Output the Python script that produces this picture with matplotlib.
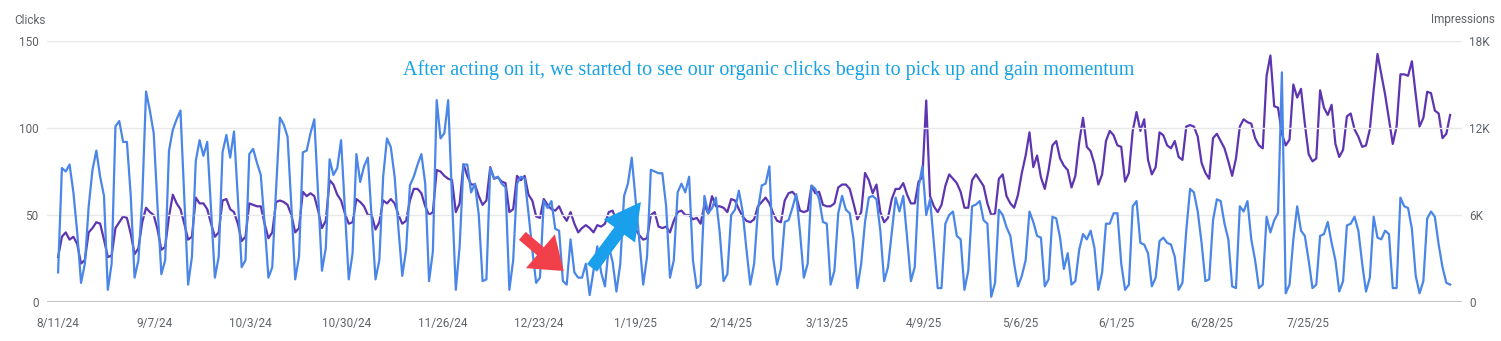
import numpy as np
import matplotlib
matplotlib.use("Agg")
import matplotlib.pyplot as plt
from matplotlib.ticker import FuncFormatter

# daily clicks, one row per week (Sun..Sat), starting 8/11/24
clicks = [
    17, 77, 75, 79, 63, 40, 11,
    22, 55, 76, 87, 72, 61, 7,
    22, 101, 104, 92, 92, 61, 14,
    24, 59, 121, 110, 97, 55, 16,
    24, 87, 99, 105, 110, 60, 10,
    26, 81, 93, 84, 92, 53, 14,
    26, 86, 96, 83, 98, 60, 20,
    24, 85, 88, 80, 73, 45, 14,
    20, 65, 106, 102, 95, 55, 13,
    26, 86, 87, 97, 105, 62, 18,
    31, 82, 73, 77, 93, 53, 13,
    28, 85, 69, 78, 83, 48, 13,
    24, 72, 94, 89, 72, 42, 15,
    30, 67, 72, 79, 85, 68, 12,
    29, 116, 94, 97, 116, 60, 7,
    32, 79, 79, 63, 68, 50, 12,
    13, 77, 71, 72, 68, 66, 7,
    24, 68, 72, 71, 51, 30, 11,
    14, 58, 54, 58, 42, 41, 12,
    10, 36, 17, 14, 14, 22, 4,
    18, 32, 17, 9, 32, 23, 6,
    22, 61, 68, 83, 59, 35, 10,
    26, 76, 75, 74, 74, 55, 14,
    24, 63, 68, 63, 72, 24, 8,
    10, 61, 51, 54, 60, 40, 12,
    16, 50, 53, 64, 52, 30, 10,
    22, 53, 67, 68, 78, 25, 10,
    19, 46, 47, 54, 62, 40, 14,
    22, 67, 65, 59, 46, 45, 10,
    18, 51, 61, 53, 51, 36, 8,
    22, 46, 60, 61, 59, 41, 12,
    20, 40, 60, 52, 61, 37, 12,
    20, 66, 78, 50, 59, 34, 8,
    8, 45, 50, 52, 38, 36, 7,
    18, 55, 56, 58, 47, 45, 3,
    11, 53, 50, 43, 38, 22, 9,
    15, 24, 52, 46, 38, 37, 9,
    13, 49, 48, 37, 19, 28, 10,
    12, 30, 39, 36, 41, 31, 7,
    17, 45, 45, 51, 51, 22, 7,
    10, 55, 58, 34, 33, 28, 9,
    14, 35, 37, 34, 33, 26, 7,
    11, 41, 65, 63, 52, 34, 12,
    13, 47, 59, 58, 45, 36, 9,
    8, 55, 52, 58, 36, 24, 8,
    10, 49, 40, 47, 51, 132, 5,
    10, 36, 55, 41, 38, 24, 8,
    10, 38, 39, 46, 34, 24, 6,
    12, 44, 45, 49, 41, 22, 6,
    14, 49, 37, 36, 41, 39, 8,
    8, 60, 55, 54, 42, 15, 5,
    12, 48, 52, 49, 33, 20, 11,
    10,
]

# daily impressions in thousands, same layout
impressions_k = [
    3.1, 4.5, 4.8, 4.3, 4.5, 4.0, 2.65,
    2.9, 4.8, 5.1, 5.5, 5.4, 4.3, 3.1,
    3.2, 5.1, 5.5, 5.9, 5.8, 4.7, 3.3,
    3.7, 5.5, 6.5, 6.2, 6.0, 5.0, 3.6,
    3.8, 5.9, 7.4, 6.8, 6.4, 5.4, 4.3,
    4.5, 7.2, 6.8, 6.8, 6.4, 5.4, 4.5,
    4.8, 7.0, 7.1, 6.4, 6.2, 5.4, 4.2,
    4.5, 6.8, 6.7, 6.6, 6.6, 5.4, 4.4,
    4.8, 6.9, 7.0, 6.9, 6.7, 6.0, 4.8,
    5.1, 7.6, 7.3, 7.5, 7.3, 6.3, 5.1,
    5.6, 8.4, 8.1, 7.4, 7.0, 6.1, 5.4,
    5.5, 7.1, 6.9, 6.6, 6.0, 6.0, 5.0,
    5.5, 7.0, 6.8, 7.1, 6.8, 6.0, 5.4,
    5.6, 7.0, 7.8, 7.8, 7.5, 6.6, 6.0,
    6.2, 9.1, 9.0, 8.7, 8.5, 8.4, 6.2,
    6.8, 9.5, 8.7, 8.1, 8.1, 7.3, 6.7,
    7.0, 9.3, 8.5, 8.6, 8.3, 8.2, 6.2,
    6.4, 8.7, 8.4, 8.7, 7.4, 7.0, 5.9,
    5.8, 7.1, 6.7, 6.4, 6.3, 6.6, 6.0,
    5.6, 6.2, 5.4, 4.8, 5.1, 5.3, 5.1,
    4.8, 5.3, 5.2, 5.4, 6.2, 6.3, 5.6,
    5.4, 5.6, 5.7, 5.5, 5.0, 4.6, 4.3,
    4.4, 6.0, 6.2, 5.2, 5.1, 5.2, 4.8,
    5.6, 6.2, 6.3, 6.0, 6.0, 5.7, 5.8,
    5.4, 6.7, 6.1, 7.3, 6.6, 6.6, 6.5,
    6.2, 7.1, 7.0, 6.4, 5.9, 5.6, 5.5,
    5.7, 6.6, 6.9, 7.2, 6.8, 6.1, 5.6,
    5.5, 7.0, 7.5, 7.6, 7.3, 6.3, 6.2,
    6.3, 8.0, 7.5, 7.6, 6.7, 6.6, 6.6,
    6.8, 7.9, 8.1, 8.1, 7.8, 6.8, 5.7,
    6.2, 8.9, 8.4, 7.5, 8.1, 6.2, 5.5,
    5.8, 7.1, 7.8, 7.8, 8.2, 7.4, 6.8,
    6.8, 8.3, 8.6, 13.9, 7.3, 6.6, 6.2,
    6.7, 8.0, 8.8, 8.5, 8.2, 7.6, 6.5,
    6.5, 8.4, 8.8, 8.4, 8.0, 6.8, 6.0,
    6.1, 8.5, 8.8, 7.3, 6.8, 6.5, 7.4,
    8.9, 10.1, 11.7, 9.3, 10.1, 8.6, 7.8,
    9.1, 10.8, 11.1, 9.9, 9.4, 9.1, 7.9,
    8.7, 11.0, 12.7, 10.7, 10.4, 9.5, 8.1,
    8.8, 11.1, 11.8, 11.5, 10.8, 10.7, 8.3,
    8.9, 11.8, 13.1, 11.8, 12.6, 9.8, 8.8,
    9.3, 11.7, 11.5, 10.8, 10.6, 11.1, 10.0,
    9.8, 12.1, 12.2, 12.1, 11.4, 9.6, 8.9,
    8.5, 11.3, 11.6, 11.1, 10.6, 9.7, 8.7,
    9.9, 12.1, 12.6, 12.4, 12.3, 11.3, 10.8,
    10.6, 15.6, 17.0, 13.5, 13.4, 11.6, 10.8,
    11.2, 15.0, 14.1, 14.7, 12.3, 10.2, 9.7,
    9.9, 14.6, 13.4, 12.9, 13.6, 10.9, 10.0,
    10.5, 12.8, 13.0, 11.9, 11.4, 10.7, 10.8,
    11.9, 14.6, 17.1, 15.7, 14.3, 12.6, 10.9,
    12.1, 15.7, 15.7, 15.6, 16.6, 14.3, 12.1,
    12.7, 14.5, 14.4, 13.2, 13.0, 11.3, 11.6,
    12.9,
]

date_labels = ["8/11/24", "9/7/24", "10/3/24", "10/30/24", "11/26/24",
               "12/23/24", "1/19/25", "2/14/25", "3/13/25", "4/9/25",
               "5/6/25", "6/1/25", "6/28/25", "7/25/25"]

note = "After acting on it, we started to see our organic clicks begin to pick up and gain momentum"

BLUE = "#4a86e8"
PURPLE = "#5e35b1"
GREY_TXT = "#5f6368"

days = np.arange(len(clicks))
impressions = np.array(impressions_k) * 1000

plt.rcParams["font.family"] = ["Roboto", "DejaVu Sans"]

fig = plt.figure(figsize=(15.01, 3.41), dpi=100)
ax = fig.add_axes([47 / 1501, 39 / 341, 1415 / 1501, 261 / 341])
ax2 = ax.twinx()

ax.set_zorder(ax2.get_zorder() + 1)
ax.patch.set_visible(False)

ax2.plot(days, impressions, color=PURPLE, lw=1.6, solid_joinstyle="round")
ax.plot(days, clicks, color=BLUE, lw=1.6, solid_joinstyle="round")

ax.set_xlim(-2.9, len(clicks) - 1 + 3.1)
ax.set_ylim(0, 150)
ax2.set_ylim(0, 18000)
ax.set_yticks([0, 50, 100, 150])
ax2.set_yticks([0, 6000, 12000, 18000])
ax2.yaxis.set_major_formatter(FuncFormatter(lambda v, p: "0" if v == 0 else f"{v / 1000:.0f}K"))

tick_step = 326.9 / (len(date_labels) - 1)
ax.set_xticks(np.arange(len(date_labels)) * tick_step)
ax.set_xticklabels(date_labels)

for a in (ax, ax2):
    for s in a.spines.values():
        s.set_visible(False)
    a.tick_params(length=0, labelsize=8.5, labelcolor=GREY_TXT)
ax.tick_params(axis="x", pad=11)
ax.tick_params(axis="y", pad=6)
ax2.tick_params(axis="y", pad=5)

ax.grid(axis="y", color="#e8e8e8", lw=1)
ax.axhline(0, color="#bdbdbd", lw=2.2, zorder=0)

fig.text(14 / 1501, 1 - 20 / 341, "Clicks", fontsize=8.5, color=GREY_TXT, va="center", ha="left")
fig.text(1495 / 1501, 1 - 20 / 341, "Impressions", fontsize=8.5, color=GREY_TXT, va="center", ha="right")

ax.text(0.510, 0.889, note, transform=ax.transAxes, ha="center", va="center",
        fontsize=14.4, color="#18a2e6", family=["Liberation Serif", "DejaVu Serif"])

# red "drop" arrow and blue "recovery" arrow
ax.annotate("", xy=(132.2, 17.8), xytext=(121.4, 38.0),
            arrowprops=dict(arrowstyle="simple,head_length=2.2,head_width=3.2,tail_width=0.75",
                            color="#f2404a", shrinkA=0, shrinkB=0, lw=0))
ax.annotate("", xy=(152.4, 57.5), xytext=(139.6, 19.6),
            arrowprops=dict(arrowstyle="simple,head_length=2.6,head_width=2.8,tail_width=0.9",
                            color="#1a9fec", shrinkA=0, shrinkB=0, lw=0))

fig.savefig("out.png", dpi=100, facecolor="white")
